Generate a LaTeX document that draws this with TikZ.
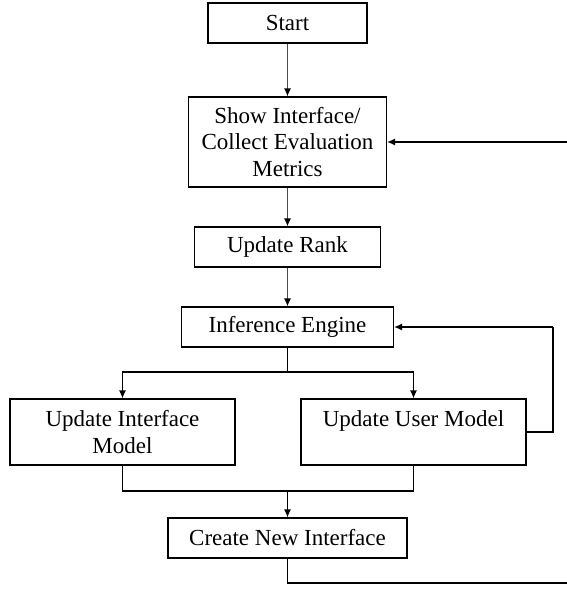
\documentclass[tikz,border=0pt]{standalone}
\usepackage{fontspec}
\setmainfont{Liberation Serif}
\usetikzlibrary{arrows.meta}
\begin{document}
\begin{tikzpicture}[x=1pt,y=-1pt,
  box/.style={draw=black, line width=1.2pt, inner sep=0pt, align=center,
    font=\fontsize{23}{26.7}\selectfont},
  conn/.style={line width=1.2pt, -{Latex[length=8pt,width=7pt,black]}},
  link/.style={line width=1.2pt},
  slate/.style={draw={rgb,255:red,70;green,70;blue,105}}]
\useasboundingbox (0,0) rectangle (567,590);
\node[box, minimum width=159pt, minimum height=40pt] (start) at (287.5,23) {Start};
\node[box, minimum width=198pt, minimum height=90pt] (show) at (287.5,142) {Show Interface/\\Collect Evaluation\\Metrics};
\node[box, minimum width=186pt, minimum height=40pt] (rank) at (287.5,247) {Update Rank};
\node[box, minimum width=212pt, minimum height=40pt] (inf) at (287.5,327) {Inference Engine};
\node[box, minimum width=225pt, minimum height=66pt] (uim) at (122.5,432) {Update Interface\\Model};
\node[box, minimum width=225pt, minimum height=66pt] (uum) at (413.5,432) {Update User Model\\\mbox{}};
\node[box, minimum width=239pt, minimum height=40pt] (cni) at (287.5,538) {Create New Interface};
\coordinate (br) at (287.5,372);
\coordinate (mg) at (287.5,491);
\coordinate (fb) at (553,327);
\coordinate (r1) at (567,142);
\coordinate (r2) at (567,583);
\draw[conn, slate] (start) -- (show);
\draw[conn, slate] (show) -- (rank);
\draw[conn, slate] (rank) -- (inf);
\draw[link] (inf.south) -- (br);
\draw[conn] (br) -| (uim.north);
\draw[conn] (br) -| (uum.north);
\draw[link] (uim.south) |- (mg);
\draw[link] (uum.south) |- (mg);
\draw[conn] (mg) -- (cni.north);
\draw[link] (uum.east) -| (fb);
\draw[conn] (fb) -- (inf.east);
\draw[conn] (r1) -- (show.east);
\draw[link] (cni.south) |- (r2);
\end{tikzpicture}
\end{document}
